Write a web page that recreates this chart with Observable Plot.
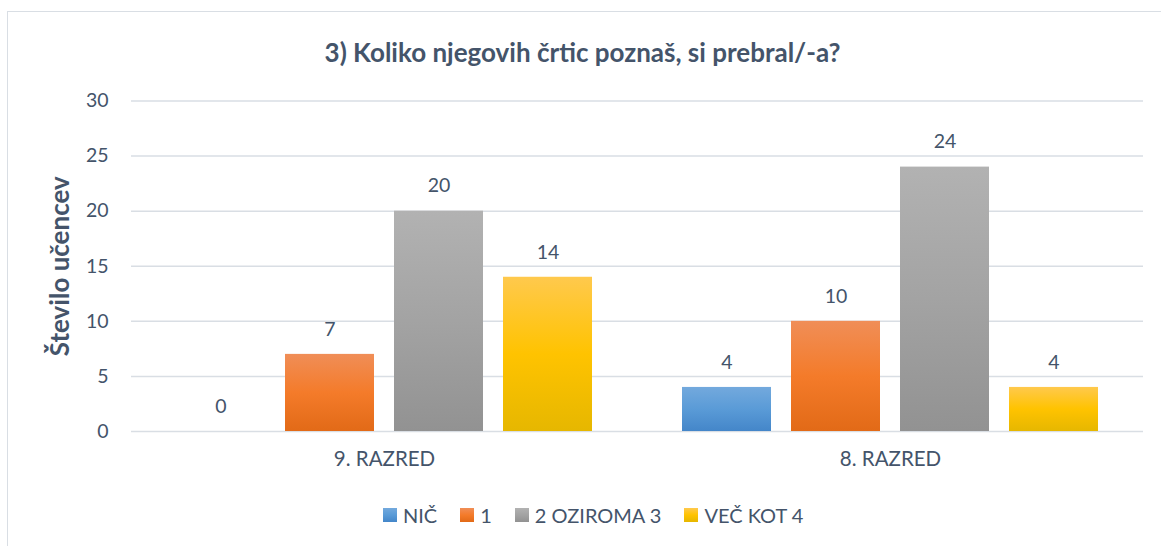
<!DOCTYPE html>
<html>
<head>
<meta charset="utf-8">
<script src="https://cdn.jsdelivr.net/npm/d3@7"></script>
<script src="https://cdn.jsdelivr.net/npm/@observablehq/plot@0.6"></script>
<style>
  html, body { margin: 0; padding: 0; background: #fff; overflow: hidden; }
  #wrap { position: relative; width: 1161px; height: 546px; font-family: Lato, sans-serif; color: #44546A; }
  #frame { position: absolute; left: 7px; top: 11px; width: 1300px; height: 700px; border-left: 1.5px solid #D9DEE4; border-top: 1.5px solid #D9DEE4; }
  #title { position: absolute; left: 0; top: 36px; width: 1161px; text-align: center; font-weight: bold; font-size: 26px; line-height: 32px; padding-left: 2px; }
  #chart { position: absolute; left: 0; top: 0; }
  #legend { position: absolute; left: 383px; top: 503px; display: flex; align-items: center; font-size: 20px; white-space: nowrap; }
  #legend .item { display: flex; align-items: center; margin-right: 23px; }
  #legend .sw { width: 14px; height: 14px; margin-right: 6px; }
</style>
</head>
<body>
<div id="wrap">
  <div id="frame"></div>
  <div id="title"></div>
  <div id="chart"></div>
  <div id="legend"></div>
</div>
<script>
// ---- data ----
const title = "3) Koliko njegovih črtic poznaš, si prebral/-a?";
const yLabel = "Število učencev";
const groups = ["9. RAZRED", "8. RAZRED"];
const series = ["NIČ", "1", "2 OZIROMA 3", "VEČ KOT 4"];
const values9 = [0, 7, 20, 14];
const values8 = [4, 10, 24, 4];
const yTicks = [0, 5, 10, 15, 20, 25, 30];

// ---- styles ----
const gradients = [
  ["gNic", "#73A9DD", "#5A9BD7", "#4486C9"],
  ["gOne", "#F08E57", "#F47B2A", "#E26A17"],
  ["gTwo", "#B2B2B2", "#A3A3A3", "#929292"],
  ["gVec", "#FFC94D", "#FFC300", "#E6B700"]
];
const textColor = "#44546A";

const table = groups.flatMap((g, i) =>
  series.map((s, j) => ({ group: g, series: s, value: [values9, values8][i][j] }))
);

const chart = Plot.plot({
  width: 1161,
  height: 546,
  marginTop: 100.5,
  marginBottom: 115,
  marginLeft: 131,
  marginRight: 18,
  style: { fontFamily: "Lato, sans-serif", fontSize: "19px", color: textColor, background: "transparent" },
  fx: { domain: groups, padding: 0, label: null, axis: null },
  x: { domain: series, paddingInner: 20 / 110, paddingOuter: 0.391, axis: null },
  y: { domain: [0, 30], label: null },
  color: { domain: series, range: gradients.map(g => `url(#${g[0]})`) },
  marks: [
    Plot.gridY(yTicks, { stroke: "#D9DEE4", strokeOpacity: 1, strokeWidth: 1.5 }),
    Plot.axisY(yTicks, { tickSize: 0, tickPadding: 23, fontSize: 19.5, fill: textColor, label: null }),
    Plot.axisFx({ anchor: "bottom", tickSize: 0, tickPadding: 20, fontSize: 20.5, fill: textColor, label: null }),
    Plot.barY(table, { fx: "group", x: "series", y: "value", fill: "series" }),
    Plot.text(table, { fx: "group", x: "series", y: "value", text: d => String(d.value), dy: -25, fontSize: 19.5, fill: textColor }),
    Plot.text([yLabel], { fx: () => groups[0], frameAnchor: "left", textAnchor: "middle", rotate: -90, dx: -71, text: d => d, fontSize: 26, fontWeight: "bold", fill: textColor })
  ]
});

// gradient defs
const defs = d3.select(chart).insert("defs", ":first-child");
gradients.forEach(([id, c0, c1, c2]) => {
  const lg = defs.append("linearGradient").attr("id", id).attr("x1", 0).attr("y1", 0).attr("x2", 0).attr("y2", 1);
  lg.append("stop").attr("offset", "0%").attr("stop-color", c0);
  lg.append("stop").attr("offset", "50%").attr("stop-color", c1);
  lg.append("stop").attr("offset", "100%").attr("stop-color", c2);
});

document.getElementById("chart").appendChild(chart);
document.getElementById("title").textContent = title;

const legend = d3.select("#legend");
series.forEach((s, i) => {
  const it = legend.append("div").attr("class", "item");
  const g = gradients[i];
  it.append("div").attr("class", "sw").style("background", `linear-gradient(${g[1]}, ${g[2]}, ${g[3]})`);
  it.append("span").text(s);
});
</script>
</body>
</html>
